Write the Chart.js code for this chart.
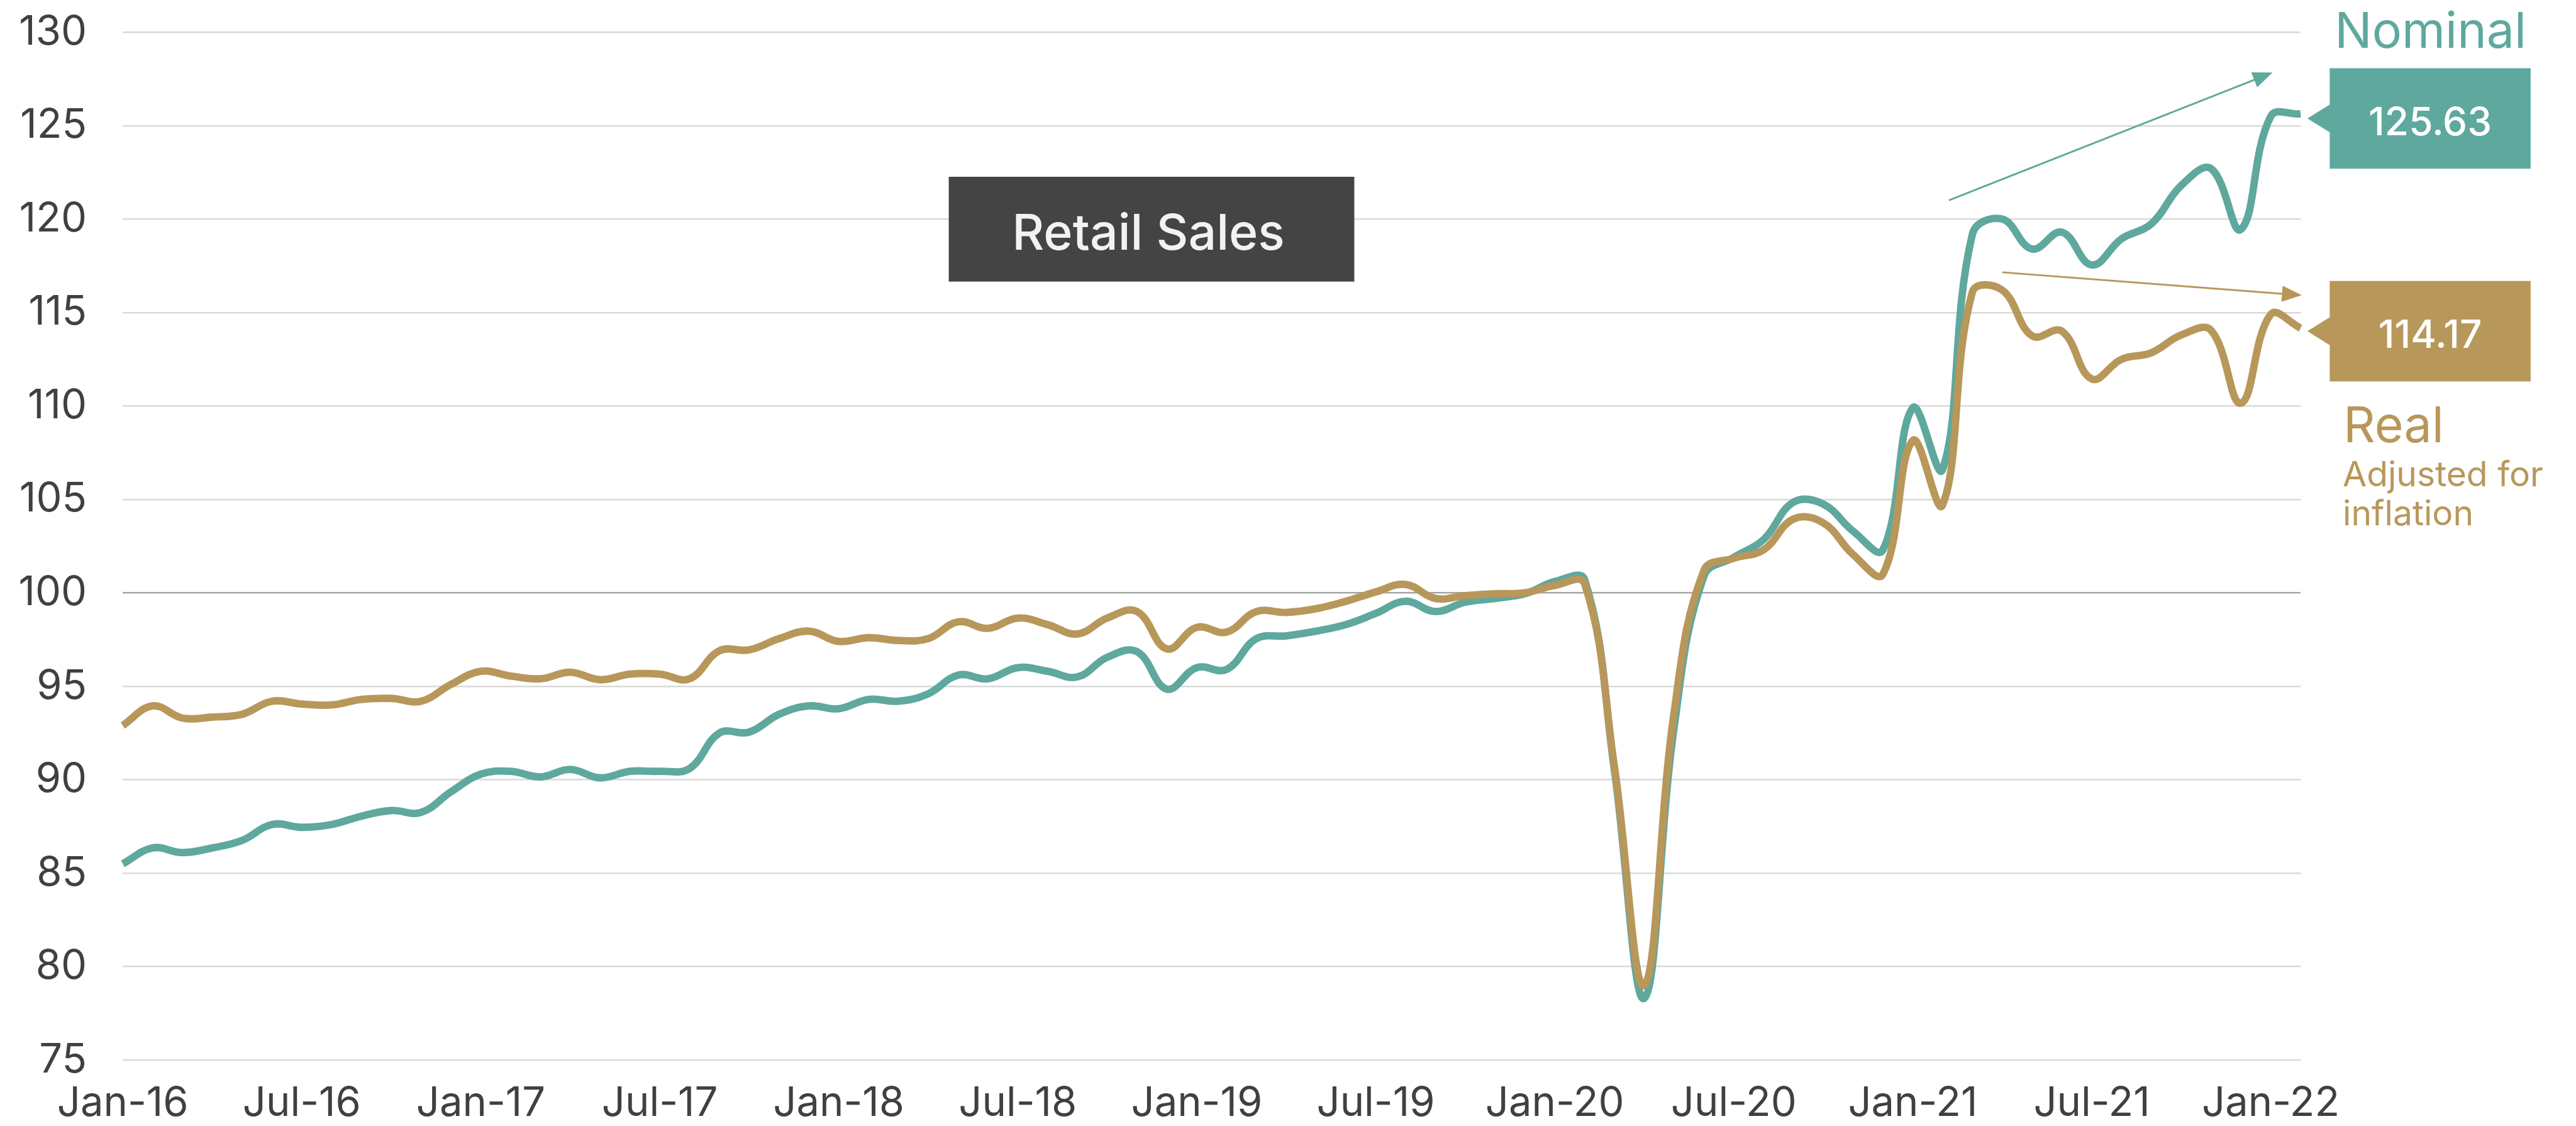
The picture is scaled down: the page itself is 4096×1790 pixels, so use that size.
<!DOCTYPE html>
<html>
<head>
<meta charset="utf-8">
<script src="https://cdn.jsdelivr.net/npm/chart.js@4"></script>
<style>
    html, body { margin: 0; padding: 0; background: #ffffff; }
    canvas { display: block; }
</style>
</head>
<body>
<canvas id="retailChart" width="4096" height="1790"></canvas>
<script>
// Data
const monthNames = ['Jan', 'Feb', 'Mar', 'Apr', 'May', 'Jun', 'Jul', 'Aug', 'Sep', 'Oct', 'Nov', 'Dec'];
const years = ['16', '17', '18', '19', '20', '21', '22'];

const nominal = [
    85.5, 86.35, 86.1, 86.35, 86.75, 87.6, 87.45, 87.6, 88.05, 88.35, 88.25, 89.35,
    90.3, 90.45, 90.15, 90.55, 90.1, 90.45, 90.45, 90.6, 92.5, 92.55, 93.5, 93.95,
    93.8, 94.3, 94.2, 94.6, 95.6, 95.4, 96.0, 95.8, 95.5, 96.55, 96.85, 94.85,
    96.0, 95.9, 97.55, 97.7, 97.95, 98.3, 98.9, 99.55, 99.0, 99.5, 99.7, 99.95,
    100.6, 100.7, 90.5, 78.3, 92.8, 100.9, 101.9, 102.85, 104.85, 104.75, 103.3, 102.3,
    109.9, 106.6, 119.2, 120.0, 118.4, 119.3, 117.55, 118.95, 119.75, 121.8, 122.7, 119.45,
    125.5, 125.63
];

const real = [
    92.9, 93.95, 93.3, 93.35, 93.5, 94.2, 94.05, 94.0, 94.3, 94.35, 94.2, 95.1,
    95.8, 95.55, 95.4, 95.75, 95.35, 95.65, 95.65, 95.4, 96.9, 96.95, 97.55, 97.95,
    97.4, 97.6, 97.45, 97.55, 98.45, 98.1, 98.65, 98.3, 97.8, 98.65, 99.0, 97.0,
    98.15, 97.9, 99.0, 98.95, 99.15, 99.55, 100.05, 100.45, 99.7, 99.85, 99.95, 100.0,
    100.4, 100.5, 90.7, 79.0, 93.6, 101.2, 101.85, 102.3, 103.95, 103.75, 102.05, 101.0,
    108.15, 104.7, 116.1, 116.2, 113.75, 114.0, 111.45, 112.5, 112.85, 113.8, 114.05, 110.15,
    114.9, 114.17
];

const labels = [];
years.forEach(y => monthNames.forEach(m => labels.push(m + '-' + y)));
labels.length = nominal.length;

const yTicks = { min: 75, max: 130, step: 5 };

// Sizes are taken from the reference and scaled to the window
const S = 0.986;
const px = v => v * S;

const TEAL = '#5fa89e';
const GOLD = '#b8975a';
const FONT = 'Inter, "Open Sans", sans-serif';

function arrow(ctx, x1, y1, x2, y2, color) {
    const a = Math.atan2(y2 - y1, x2 - x1);
    const len = px(32), half = px(13);
    ctx.strokeStyle = color;
    ctx.fillStyle = color;
    ctx.lineWidth = px(3);
    ctx.beginPath();
    ctx.moveTo(px(x1), px(y1));
    ctx.lineTo(px(x2) - Math.cos(a) * len * 0.8, px(y2) - Math.sin(a) * len * 0.8);
    ctx.stroke();
    const bx = px(x2) - Math.cos(a) * len, by = px(y2) - Math.sin(a) * len;
    ctx.beginPath();
    ctx.moveTo(px(x2), px(y2));
    ctx.lineTo(bx + Math.sin(a) * half, by - Math.cos(a) * half);
    ctx.lineTo(bx - Math.sin(a) * half, by + Math.cos(a) * half);
    ctx.closePath();
    ctx.fill();
}

function valueBox(ctx, cy, color, text, baseline) {
    ctx.fillStyle = color;
    ctx.fillRect(px(3757), px(cy - 81), px(324), px(162));
    ctx.beginPath();
    ctx.moveTo(px(3721), px(cy));
    ctx.lineTo(px(3758), px(cy - 23));
    ctx.lineTo(px(3758), px(cy + 23));
    ctx.closePath();
    ctx.fill();
    ctx.fillStyle = '#ffffff';
    ctx.font = '500 ' + px(63) + 'px ' + FONT;
    ctx.textAlign = 'center';
    ctx.textBaseline = 'alphabetic';
    ctx.fillText(text, px(3919), px(baseline));
}

const annotations = {
    id: 'annotations',
    afterDraw(chart) {
        const ctx = chart.ctx;
        ctx.save();

        // Title box
        ctx.fillStyle = '#444444';
        ctx.fillRect(px(1530), px(285), px(654), px(169));
        ctx.fillStyle = '#f2f2f2';
        ctx.font = '500 ' + px(80) + 'px ' + FONT;
        ctx.textAlign = 'center';
        ctx.textBaseline = 'alphabetic';
        ctx.fillText('Retail Sales', px(1852), px(403));

        // Trend arrows
        arrow(ctx, 3143, 323, 3665, 117, TEAL);
        arrow(ctx, 3229, 439, 3712, 476, GOLD);

        // End value boxes
        valueBox(ctx, 191, TEAL, nominal[nominal.length - 1].toFixed(2), 218);
        valueBox(ctx, 534, GOLD, real[real.length - 1].toFixed(2), 561);

        // Series names
        ctx.textAlign = 'left';
        ctx.fillStyle = TEAL;
        ctx.font = '400 ' + px(80) + 'px ' + FONT;
        ctx.fillText('Nominal', px(3765), px(77));
        ctx.fillStyle = GOLD;
        ctx.fillText('Real', px(3779), px(713));
        ctx.font = '400 ' + px(56) + 'px ' + FONT;
        ctx.fillText('Adjusted for', px(3778), px(784));
        ctx.fillText('inflation', px(3778), px(847));

        ctx.restore();
    }
};

document.addEventListener('DOMContentLoaded', () => {
    const ctx = document.getElementById('retailChart');

    new Chart(ctx, {
        type: 'line',
        data: {
            labels: labels,
            datasets: [{
                label: 'Real',
                data: real,
                borderColor: GOLD,
                borderWidth: px(12),
                pointRadius: 0,
                tension: 0.4,
                fill: false
            }, {
                label: 'Nominal',
                data: nominal,
                borderColor: TEAL,
                borderWidth: px(12),
                pointRadius: 0,
                tension: 0.4,
                fill: false
            }]
        },
        options: {
            responsive: false,
            animation: false,
            devicePixelRatio: 1,
            layout: {
                padding: { top: px(52), right: 4096 - px(3710), left: 0, bottom: 0 }
            },
            plugins: {
                legend: { display: false },
                tooltip: { enabled: false }
            },
            scales: {
                x: {
                    offset: false,
                    grid: { display: false },
                    border: { display: false },
                    afterFit: scale => { scale.height = 1790 - px(1709); },
                    ticks: {
                        autoSkip: false,
                        maxRotation: 0,
                        padding: px(23),
                        color: '#404040',
                        font: { family: FONT, size: px(66) },
                        callback: (val, i) => (i % 6 === 0 ? labels[i] : '')
                    }
                },
                y: {
                    min: yTicks.min,
                    max: yTicks.max,
                    border: { display: false },
                    afterFit: scale => {
                        // fixed axis width, and no extra room above/below the plot
                        scale.width = px(198);
                        scale.paddingTop = 0;
                        scale.paddingBottom = 0;
                    },
                    grid: {
                        drawTicks: false,
                        lineWidth: px(2.5),
                        color: c => (c.tick && c.tick.value === 100 ? '#a6a6a6' : '#d9d9d9')
                    },
                    ticks: {
                        stepSize: yTicks.step,
                        padding: px(58),
                        color: '#404040',
                        font: { family: FONT, size: px(66) }
                    }
                }
            }
        },
        plugins: [annotations]
    });
});
</script>
</body>
</html>
